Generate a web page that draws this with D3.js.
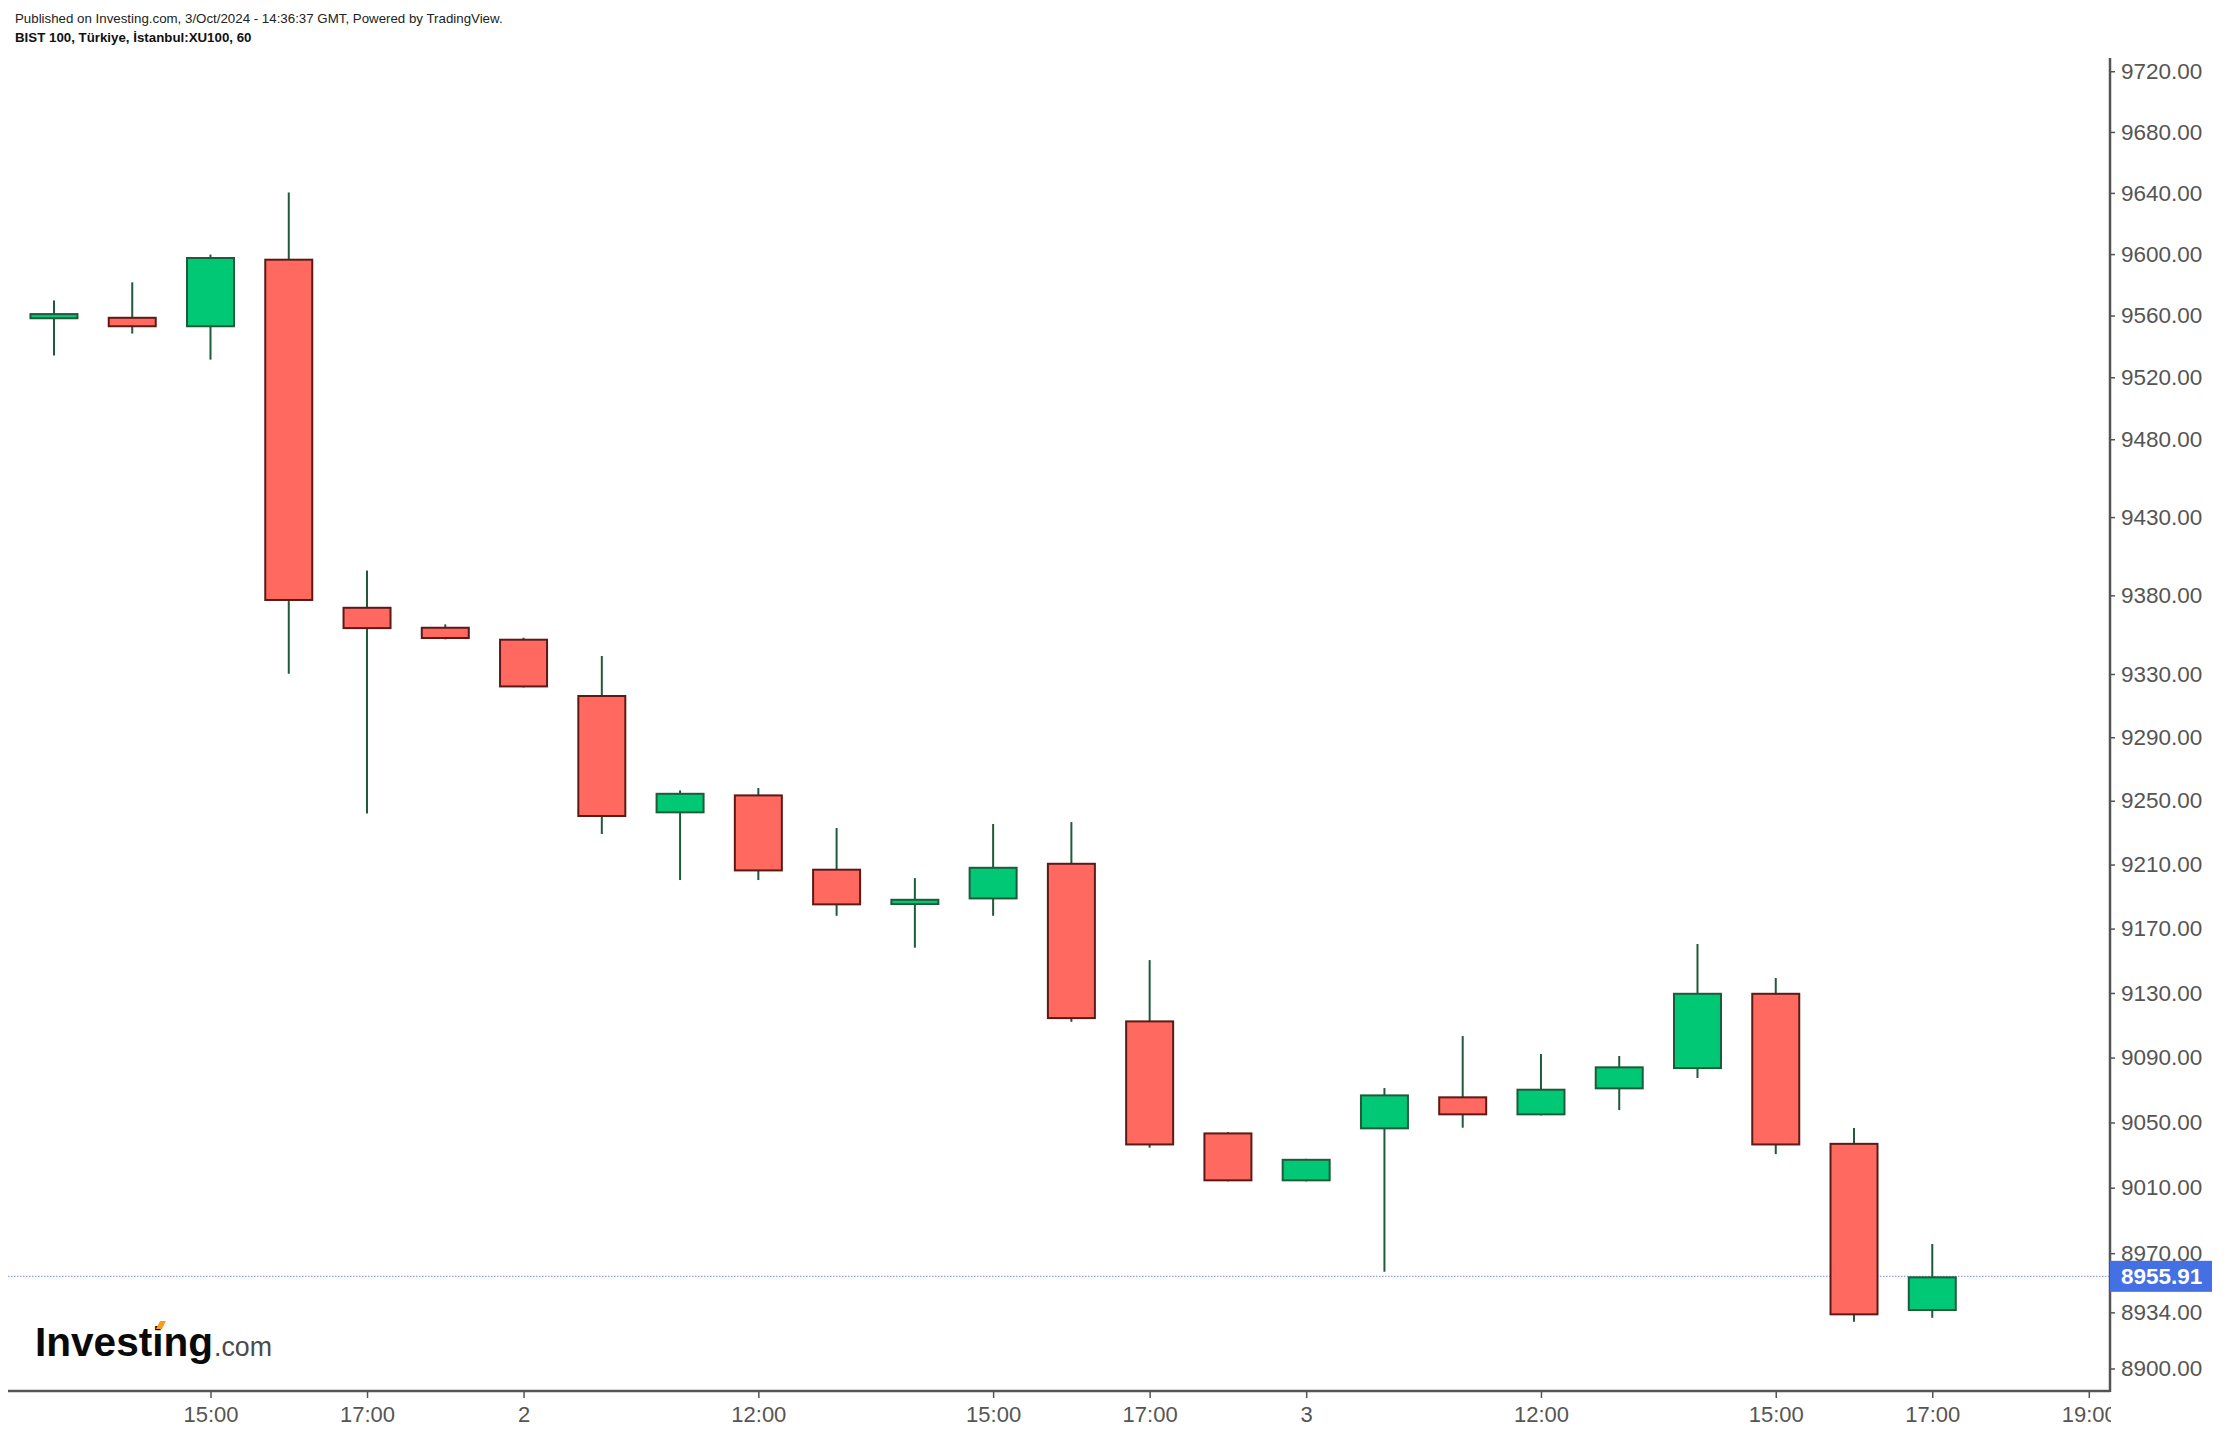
<!DOCTYPE html>
<html>
<head>
<meta charset="utf-8">
<script src="https://cdn.jsdelivr.net/npm/d3@7"></script>
<style>
  html, body { margin: 0; padding: 0; background: #fff; }
  svg { display: block; }
</style>
</head>
<body>
<script>
// ---- Data (BIST 100, XU100, 60 min) ----
const times = [
  "2024-10-01 13:00","2024-10-01 14:00","2024-10-01 15:00","2024-10-01 16:00","2024-10-01 17:00","2024-10-01 18:00",
  "2024-10-02 09:00","2024-10-02 10:00","2024-10-02 11:00","2024-10-02 12:00","2024-10-02 13:00","2024-10-02 14:00",
  "2024-10-02 15:00","2024-10-02 16:00","2024-10-02 17:00","2024-10-02 18:00",
  "2024-10-03 09:00","2024-10-03 10:00","2024-10-03 11:00","2024-10-03 12:00","2024-10-03 13:00","2024-10-03 14:00",
  "2024-10-03 15:00","2024-10-03 16:00","2024-10-03 17:00"
];
const openValues  = [9557.6, 9559.2, 9552.4, 9597.0, 9372.7, 9360.0, 9352.4, 9316.7, 9242.1, 9254.0, 9207.4, 9184.7, 9188.2, 9211.1, 9113.0, 9043.9, 9013.9, 9045.8, 9066.1, 9054.4, 9070.4, 9082.9, 9130.1, 9037.5, 8934.8];
const highValues  = [9569.8, 9581.6, 9599.7, 9640.2, 9395.8, 9361.5, 9353.0, 9341.4, 9256.5, 9258.0, 9232.9, 9201.5, 9235.4, 9236.6, 9150.4, 9044.0, 9027.7, 9071.2, 9103.3, 9092.2, 9091.0, 9160.4, 9139.3, 9046.6, 8975.6];
const lowValues   = [9534.1, 9548.3, 9531.4, 9330.2, 9242.0, 9352.0, 9321.5, 9229.1, 9200.3, 9200.3, 9178.0, 9158.1, 9178.0, 9112.1, 9034.5, 9013.9, 9013.9, 8958.7, 9046.8, 9054.4, 9057.6, 9077.4, 9030.6, 8928.3, 8930.7];
const closeValues = [9561.6, 9552.4, 9598.1, 9376.4, 9358.5, 9352.2, 9321.5, 9239.8, 9255.0, 9205.7, 9184.5, 9188.6, 9208.6, 9113.8, 9035.9, 9013.9, 9027.7, 9067.3, 9054.4, 9070.8, 9084.6, 9130.1, 9035.9, 8932.2, 8955.91];

const xTickIndex  = [2, 4, 6, 9, 12, 14, 16, 19, 22, 24, 26];
const xTickLabels = ["15:00", "17:00", "2", "12:00", "15:00", "17:00", "3", "12:00", "15:00", "17:00", "19:00"];
const yTickValues = [9720, 9680, 9640, 9600, 9560, 9520, 9480, 9430, 9380, 9330, 9290, 9250, 9210, 9170, 9130, 9090, 9050, 9010, 8970, 8934, 8900];
const lastPrice = 8955.91;

const headerLine1 = "Published on Investing.com, 3/Oct/2024 - 14:36:37 GMT, Powered by TradingView.";
const headerLine2 = "BIST 100, Türkiye, İstanbul:XU100, 60";

// ---- Layout ----
const W = 2230, H = 1434;
const axisX = 2110, axisY = 1391, plotTop = 58, plotLeft = 8;
const FONT = "'Liberation Sans', Arial, Helvetica, sans-serif";
const greenFill = "#00c875", greenStroke = "#1e5b3a";
const redFill = "#ff6960", redStroke = "#5c1a16";
const wickColor = "#1e5b3a";
const axisColor = "#555555";
const textColor = "#555555";

const svg = d3.select("body").append("svg").attr("width", W).attr("height", H)
  .style("font-family", FONT);
svg.append("rect").attr("width", W).attr("height", H).attr("fill", "#fff");

const x = d3.scaleLinear().domain([2, 26]).range([210.5, 2088.8]);
const y = d3.scaleLog().domain([8900, 9720]).range([1368.5, 71.25]);

const candles = times.map((t, i) => ({
  t, i, o: openValues[i], h: highValues[i], l: lowValues[i], c: closeValues[i]
}));

const defs = svg.append("defs");
defs.append("clipPath").attr("id", "plotclip").append("rect")
  .attr("x", 0).attr("y", plotTop).attr("width", axisX).attr("height", axisY - plotTop);
defs.append("clipPath").attr("id", "xclip").append("rect")
  .attr("x", 0).attr("y", axisY).attr("width", axisX + 1).attr("height", H - axisY);

const plot = svg.append("g").attr("clip-path", "url(#plotclip)");

// last price dotted line
plot.append("line")
  .attr("x1", plotLeft).attr("x2", axisX)
  .attr("y1", y(lastPrice)).attr("y2", y(lastPrice))
  .attr("stroke", "#8ea2f2").attr("stroke-width", 1.2).attr("stroke-dasharray", "1.5,1.5");

const bodyW = 47;
const cg = plot.selectAll("g.candle").data(candles).join("g").attr("class", "candle");
cg.append("line")
  .attr("x1", d => x(d.i)).attr("x2", d => x(d.i))
  .attr("y1", d => y(d.h)).attr("y2", d => y(d.l))
  .attr("stroke", wickColor).attr("stroke-width", 2);
cg.append("rect")
  .attr("x", d => x(d.i) - bodyW / 2)
  .attr("width", bodyW)
  .attr("y", d => y(Math.max(d.o, d.c)) + 1)
  .attr("height", d => Math.max(0.5, Math.abs(y(d.o) - y(d.c)) - 2))
  .attr("fill", d => d.c >= d.o ? greenFill : redFill)
  .attr("stroke", d => d.c >= d.o ? greenStroke : redStroke)
  .attr("stroke-width", 2);

// ---- Y axis (right) ----
const yAxis = d3.axisRight(y).tickValues(yTickValues).tickFormat(d3.format(".2f")).tickSize(5).tickPadding(6);
const gy = svg.append("g").attr("transform", `translate(${axisX},0)`).call(yAxis);
gy.select(".domain").remove();
gy.selectAll(".tick line").attr("stroke", axisColor).attr("stroke-width", 1.5);
gy.selectAll(".tick text").attr("fill", textColor).style("font-size", "22.5px").style("font-family", FONT);
svg.append("line").attr("x1", axisX).attr("x2", axisX).attr("y1", plotTop).attr("y2", axisY + 1)
  .attr("stroke", axisColor).attr("stroke-width", 2.5);

// ---- X axis (bottom) ----
const xAxis = d3.axisBottom(x).tickValues(xTickIndex)
  .tickFormat((d, k) => xTickLabels[k]).tickSize(7).tickPadding(8);
const gxWrap = svg.append("g").attr("clip-path", "url(#xclip)");
const gx = gxWrap.append("g").attr("transform", `translate(0,${axisY})`).call(xAxis);
gx.select(".domain").remove();
gx.selectAll(".tick line").attr("stroke", axisColor).attr("stroke-width", 1.5);
gx.selectAll(".tick text").attr("fill", textColor).style("font-size", "22px").style("font-family", FONT);
svg.append("line").attr("x1", plotLeft).attr("x2", axisX).attr("y1", axisY).attr("y2", axisY)
  .attr("stroke", axisColor).attr("stroke-width", 2.5);

// ---- Last price label ----
const lp = y(lastPrice);
svg.append("rect").attr("x", axisX).attr("y", lp - 15.5).attr("width", 102).attr("height", 31)
  .attr("fill", "#4470e3");
svg.append("text").attr("x", axisX + 11).attr("y", lp).attr("dy", "0.36em")
  .attr("fill", "#ffffff").style("font-size", "22.5px").style("font-weight", "bold")
  .text(d3.format(".2f")(lastPrice));

// ---- Header ----
svg.append("text").attr("x", 15).attr("y", 23).attr("fill", "#222").style("font-size", "13.3px")
  .text(headerLine1);
svg.append("text").attr("x", 15).attr("y", 42).attr("fill", "#111").style("font-size", "13.3px")
  .style("font-weight", "bold").text(headerLine2);

// ---- Logo ----
const logo = svg.append("g");
logo.append("text").attr("x", 35).attr("y", 1356).attr("fill", "#0a0a0a")
  .style("font-size", "40px").style("font-weight", "bold")
  .attr("textLength", 178).attr("lengthAdjust", "spacingAndGlyphs")
  .text("Investing");
logo.append("text").attr("x", 214).attr("y", 1356).attr("fill", "#4a4a4a")
  .style("font-size", "27px")
  .attr("textLength", 58).attr("lengthAdjust", "spacingAndGlyphs")
  .text(".com");
logo.append("path").attr("d", "M156,1329 L160,1321 L166,1321 L162,1329 Z").attr("fill", "#f6a01a");
</script>
</body>
</html>
